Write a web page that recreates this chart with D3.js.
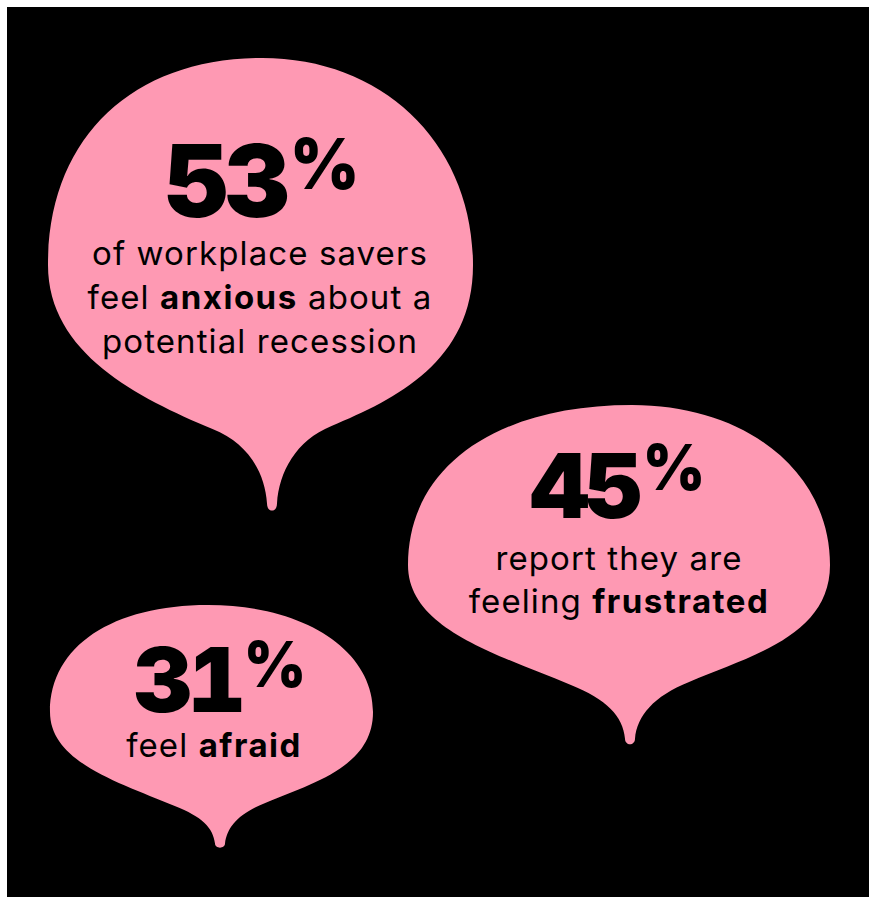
<!DOCTYPE html>
<html>
<head>
<meta charset="utf-8">
<script src="https://cdn.jsdelivr.net/npm/d3@7/dist/d3.min.js"></script>
<style>
  html, body { margin: 0; padding: 0; background: #fff; }
  svg { display: block; }
  .digits { font-variant-numeric: tabular-nums; font-feature-settings: "tnum" 1; }
</style>
</head>
<body>
<script>
// ---- data ----
const values = [53, 45, 31];
const labels = [
  ["of workplace savers", "feel **anxious** about a", "potential recession"],
  ["report they are", "feeling **frustrated**"],
  ["feel **afraid**"]
];

// ---- layout (shape geometry, not data) ----
const layout = [
  { L: 48, R: 473, T: 58, topX: 262, My: 265, N: 426, Tx: 272, Ty: 512,
    numFs: 100, numY: 217, pctRaise: 28, lineY: 265, lineGap: 44 },
  { L: 408, R: 830, T: 405, topX: 632, My: 565, N: 682, Tx: 630, Ty: 745,
    numFs: 90, numY: 518, pctRaise: 28, lineY: 570, lineGap: 43 },
  { L: 50, R: 373, T: 605, topX: 208, My: 712, N: 803, Tx: 220, Ty: 848,
    numFs: 90, numY: 712, pctRaise: 25, lineY: 757, lineGap: 43 }
];
const numCx = [262, 618, 220];
const textCx = [260, 619, 214];

const W = 869, H = 897;
const pink = "#fe99b3";
const FONT = "Inter, 'Noto Sans', sans-serif";

const svg = d3.select("body").append("svg").attr("width", W).attr("height", H);
svg.append("rect").attr("x", 7).attr("y", 7).attr("width", W - 7).attr("height", H - 7).attr("fill", "#000");

function bubblePath(b) {
  const w = b.R - b.L;
  const f = 0.14 * w;
  const Lt = b.Ty - b.N;
  const tw = 5;
  const p = d3.path();
  const nrX = b.Tx + f, nlX = b.Tx - f;
  const dR = b.R - nrX, dL = nlX - b.L;
  p.moveTo(b.topX, b.T);
  p.bezierCurveTo(b.topX + 0.58 * (b.R - b.topX), b.T, b.R, b.My - 0.58 * (b.My - b.T), b.R, b.My);
  p.bezierCurveTo(b.R, b.My + 0.6 * (b.N - b.My), nrX + 0.45 * dR, b.N - 0.45 * dR * 0.42, nrX, b.N);
  p.bezierCurveTo(b.Tx + 0.4 * f, b.N + 0.6 * f * 0.4, b.Tx + tw + 2, b.Ty - 0.46 * Lt, b.Tx + tw, b.Ty - 0.1 * Lt);
  p.bezierCurveTo(b.Tx + tw, b.Ty + 1, b.Tx - tw, b.Ty + 1, b.Tx - tw, b.Ty - 0.1 * Lt);
  p.bezierCurveTo(b.Tx - tw - 2, b.Ty - 0.46 * Lt, b.Tx - 0.4 * f, b.N + 0.6 * f * 0.4 + 3, nlX, b.N + 3);
  p.bezierCurveTo(nlX - 0.45 * dL, b.N + 3 - 0.45 * dL * 0.42, b.L, b.My + 0.55 * (b.N - b.My), b.L, b.My);
  p.bezierCurveTo(b.L, b.My - 0.62 * (b.My - b.T), b.topX - 0.6 * (b.topX - b.L), b.T, b.topX, b.T);
  p.closePath();
  return p.toString();
}

const g = svg.selectAll("g.bubble").data(values).join("g").attr("class", "bubble");

g.append("path")
  .attr("d", (d, i) => bubblePath(layout[i]))
  .attr("fill", pink);

g.each(function (d, i) {
  const b = layout[i];
  const sel = d3.select(this);
  const ng = sel.append("g");
  const digits = ng.append("text")
    .attr("class", "digits")
    .attr("font-family", FONT)
    .attr("font-weight", 900)
    .attr("font-size", b.numFs)
    .attr("letter-spacing", -4)
    .attr("fill", "#000")
    .text(d);
  const pctScale = 0.95;
  const pct = ng.append("text")
    .attr("font-family", FONT)
    .attr("font-weight", 900)
    .attr("font-size", b.numFs * 0.7)
    .attr("fill", "#000")
    .text("%");
  const wd = digits.node().getBBox().width;
  const wp = pct.node().getBBox().width * pctScale;
  const sx = 1.0;
  const gap = 2;
  const total = wd * sx + gap + wp;
  const x0 = numCx[i] - total / 2;
  digits.attr("transform", `translate(${x0},${b.numY}) scale(${sx},1)`);
  pct.attr("transform", `translate(${x0 + wd * sx + gap},${b.numY - b.pctRaise}) scale(${pctScale},1)`);

  labels[i].forEach((line, k) => {
    const t = sel.append("text")
      .attr("x", textCx[i])
      .attr("y", b.lineY + k * b.lineGap)
      .attr("text-anchor", "middle")
      .attr("font-family", FONT)
      .attr("font-size", 33)
      .attr("letter-spacing", 1.1)
      .attr("fill", "#000");
    line.split("**").forEach((seg, j) => {
      if (!seg) return;
      t.append("tspan")
        .attr("font-weight", j % 2 ? 700 : 400)
        .attr("letter-spacing", j % 2 ? 1.5 : 1.1)
        .text(seg);
    });
  });
});
</script>
</body>
</html>
